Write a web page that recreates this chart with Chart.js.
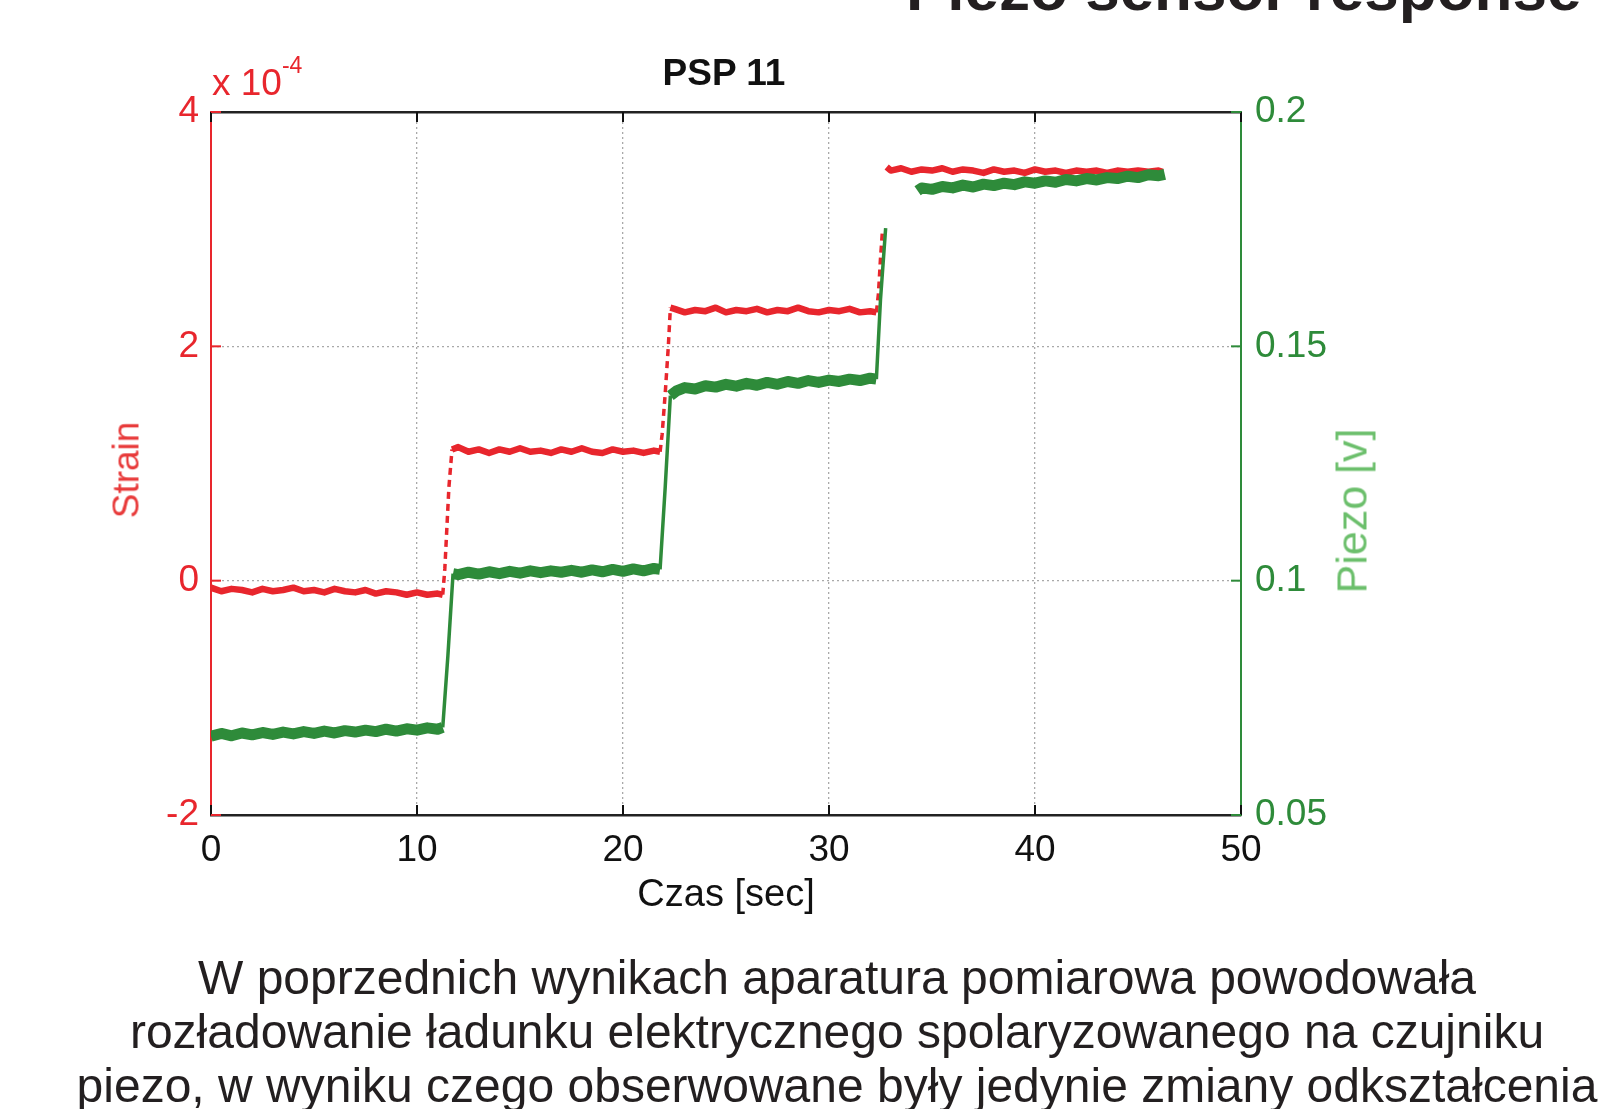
<!DOCTYPE html>
<html lang="pl">
<head>
<meta charset="utf-8">
<title>PSP 11</title>
<script src="https://cdn.jsdelivr.net/npm/chart.js@4.4.1/dist/chart.umd.min.js"></script>
<style>
  html, body { margin: 0; padding: 0; background: #fff; overflow: hidden; }
  body { width: 1622px; height: 1109px; position: relative; font-family: 'Liberation Sans', Arial, sans-serif; color: #231f20; }
  #wrap { position: absolute; left: 0; top: 0; width: 1622px; height: 1109px; }
  .txt { position: absolute; white-space: nowrap; line-height: 1; }
  #slideTitle { left: 906px; top: -42px; font-size: 62px; font-weight: bold; }
  #plotTitle { left: 724px; top: 54px; font-size: 37px; font-weight: bold; color: #111; transform: translateX(-50%); }
  #multiplier { left: 212px; top: 64px; font-size: 37px; color: #e8262d; }
  #multiplier sup { font-size: 23px; vertical-align: baseline; position: relative; top: -22px; }
  #strainTitle { left: 126px; top: 470px; font-size: 37px; color: #e83a3a; transform: translate(-50%, -50%) rotate(-90deg); }
  #piezoTitle { left: 1352px; top: 511px; font-size: 43px; color: #6cbf6c; transform: translate(-50%, -50%) rotate(-90deg); }
  #note { position: absolute; left: 0; width: 1674px; top: 951px; text-align: center; font-size: 48px; line-height: 54px; white-space: nowrap; }
</style>
</head>
<body>
<div id="slideTitle" class="txt">Piezo sensor response</div>
<div id="wrap"><canvas id="psp"></canvas></div>
<div id="plotTitle" class="txt">PSP 11</div>
<div id="multiplier" class="txt">x 10<sup>-4</sup></div>
<div id="strainTitle" class="txt">Strain</div>
<div id="piezoTitle" class="txt">Piezo [v]</div>
<div id="note">W poprzednich wynikach aparatura pomiarowa powodowała<br>rozładowanie ładunku elektrycznego spolaryzowanego na czujniku<br>piezo, w wyniku czego obserwowane były jedynie zmiany odkształcenia</div>

<script>
// Tick values
const xTicks = [0, 10, 20, 30, 40, 50];
const strainTicks = [-2, 0, 2, 4];
const piezoTicks = [0.05, 0.1, 0.15, 0.2];

// Strain (x 10^-4)
const strainTime = [
  0, 0.5, 1, 1.5, 2, 2.5, 3, 3.5, 4, 4.5, 5, 5.5, 6, 6.5, 7, 7.5, 8, 8.5, 9, 9.5, 10, 10.5, 11, 11.25,
  11.35, 11.45, 11.55, 11.7,
  12, 12.5, 13, 13.5, 14, 14.5, 15, 15.5, 16, 16.5, 17, 17.5, 18, 18.5, 19, 19.5, 20, 20.5, 21, 21.5, 21.8,
  21.9, 22.05, 22.2, 22.3,
  22.5, 23, 23.5, 24, 24.5, 25, 25.5, 26, 26.5, 27, 27.5, 28, 28.5, 29, 29.5, 30, 30.5, 31, 31.5, 32, 32.3,
  32.4, 32.5, 32.6, 32.7,
  32.8, 33, 33.5, 34, 34.5, 35, 35.5, 36, 36.5, 37, 37.5, 38, 38.5, 39, 39.5, 40, 40.5, 41, 41.5, 42, 42.5, 43, 43.5, 44, 44.5, 45, 45.5, 46, 46.2
];
const strainE4 = [
  -0.06, -0.09, -0.07, -0.08, -0.10, -0.07, -0.09, -0.08, -0.06, -0.09, -0.08, -0.10, -0.07, -0.09, -0.10, -0.08, -0.11, -0.09, -0.10, -0.12, -0.10, -0.12, -0.11, -0.12,
  0.10, 0.45, 0.80, 1.12,
  1.14, 1.10, 1.12, 1.09, 1.12, 1.10, 1.13, 1.10, 1.11, 1.09, 1.12, 1.10, 1.13, 1.10, 1.09, 1.12, 1.10, 1.11, 1.09, 1.11, 1.10,
  1.25, 1.60, 2.00, 2.33,
  2.32, 2.29, 2.31, 2.30, 2.33, 2.29, 2.31, 2.30, 2.32, 2.29, 2.31, 2.30, 2.33, 2.30, 2.29, 2.31, 2.30, 2.32, 2.29, 2.30, 2.29,
  2.45, 2.75, 3.00, null,
  3.53, 3.50, 3.52, 3.49, 3.51, 3.50, 3.52, 3.49, 3.51, 3.50, 3.48, 3.51, 3.49, 3.50, 3.48, 3.51, 3.49, 3.50, 3.48, 3.50, 3.49, 3.50, 3.48, 3.50, 3.49, 3.50, 3.49, 3.50, 3.49
];

// Piezo voltage [V]
const piezoTime = [
  0, 0.5, 1, 1.5, 2, 2.5, 3, 3.5, 4, 4.5, 5, 5.5, 6, 6.5, 7, 7.5, 8, 8.5, 9, 9.5, 10, 10.5, 11, 11.25,
  11.5, 11.75,
  12, 12.5, 13, 13.5, 14, 14.5, 15, 15.5, 16, 16.5, 17, 17.5, 18, 18.5, 19, 19.5, 20, 20.5, 21, 21.5, 21.8,
  22.05, 22.3,
  22.6, 23, 23.5, 24, 24.5, 25, 25.5, 26, 26.5, 27, 27.5, 28, 28.5, 29, 29.5, 30, 30.5, 31, 31.5, 32, 32.3,
  32.5, 32.75, 33.5,
  34.3, 34.5, 35, 35.5, 36, 36.5, 37, 37.5, 38, 38.5, 39, 39.5, 40, 40.5, 41, 41.5, 42, 42.5, 43, 43.5, 44, 44.5, 45, 45.5, 46, 46.3
];
const piezoV = [
  0.0668, 0.0674, 0.0669, 0.0675, 0.0671, 0.0676, 0.0672, 0.0677, 0.0673, 0.0678, 0.0674, 0.0679, 0.0675, 0.0680, 0.0677, 0.0681, 0.0678, 0.0683, 0.0679, 0.0684, 0.0681, 0.0686, 0.0683, 0.0687,
  0.0840, 0.1015,
  0.1013, 0.1018, 0.1014, 0.1019, 0.1015, 0.1020, 0.1016, 0.1021, 0.1017, 0.1021, 0.1018, 0.1022, 0.1018, 0.1023, 0.1019, 0.1024, 0.1020, 0.1025, 0.1021, 0.1026, 0.1024,
  0.1200, 0.1395,
  0.1405, 0.1412, 0.1409, 0.1416, 0.1413, 0.1419, 0.1415, 0.1421, 0.1417, 0.1423, 0.1419, 0.1425, 0.1421, 0.1427, 0.1423, 0.1428, 0.1425, 0.1430, 0.1427, 0.1432, 0.1430,
  0.1600, 0.1752, null,
  0.1832, 0.1838, 0.1835, 0.1841, 0.1838, 0.1844, 0.1840, 0.1846, 0.1843, 0.1848, 0.1845, 0.1851, 0.1848, 0.1853, 0.1850, 0.1856, 0.1853, 0.1858, 0.1855, 0.1860, 0.1858, 0.1863, 0.1860, 0.1866, 0.1864, 0.1867
];

const RED = '#e8262d';
const GREEN = '#2e8b3a';
const GRID = '#a9a9a9';

Chart.defaults.font.family = "'Liberation Sans', Arial, sans-serif";
Chart.defaults.color = '#111';

// steep parts of a trace (the jumps) are drawn thinner
function isSteep(ctx) {
  const dx = Math.abs(ctx.p1.x - ctx.p0.x);
  const dy = Math.abs(ctx.p1.y - ctx.p0.y);
  return dy > dx * 3;
}

function setTicks(values) {
  return scale => { scale.ticks = values.map(v => ({ value: v })); };
}

// small tick marks pointing into the plot, like the original figure
const innerTicks = {
  id: 'innerTicks',
  beforeDatasetsDraw(chart) {
    const { ctx, chartArea: a, scales } = chart;
    const len = 10;
    ctx.save();
    ctx.lineWidth = 2;
    ctx.strokeStyle = '#111';
    xTicks.forEach(v => {
      const px = scales.x.getPixelForValue(v);
      ctx.beginPath();
      ctx.moveTo(px, a.bottom); ctx.lineTo(px, a.bottom - len);
      ctx.moveTo(px, a.top); ctx.lineTo(px, a.top + len);
      ctx.stroke();
    });
    ctx.strokeStyle = RED;
    strainTicks.forEach(v => {
      const py = scales.y.getPixelForValue(v);
      ctx.beginPath(); ctx.moveTo(a.left, py); ctx.lineTo(a.left + len, py); ctx.stroke();
    });
    ctx.strokeStyle = GREEN;
    piezoTicks.forEach(v => {
      const py = scales.y1.getPixelForValue(v);
      ctx.beginPath(); ctx.moveTo(a.right, py); ctx.lineTo(a.right - len, py); ctx.stroke();
    });
    ctx.restore();
  }
};

document.addEventListener('DOMContentLoaded', function() {
  new Chart(document.getElementById('psp'), {
    type: 'line',
    data: {
      datasets: [
        {
          label: 'Piezo',
          yAxisID: 'y1',
          data: piezoTime.map((t, i) => ({ x: t, y: piezoV[i] })),
          borderColor: GREEN,
          borderWidth: 11,
          borderJoinStyle: 'round',
          segment: { borderWidth: ctx => isSteep(ctx) ? 3.5 : 11 }
        },
        {
          label: 'Strain',
          yAxisID: 'y',
          data: strainTime.map((t, i) => ({ x: t, y: strainE4[i] })),
          borderColor: RED,
          borderWidth: 6.5,
          borderJoinStyle: 'round',
          segment: {
            borderWidth: ctx => isSteep(ctx) ? 3.5 : 6.5,
            borderDash: ctx => isSteep(ctx) ? [7, 5] : undefined
          }
        }
      ]
    },
    options: {
      responsive: true,
      maintainAspectRatio: false,
      animation: false,
      spanGaps: false,
      elements: { point: { radius: 0 }, line: { tension: 0 } },
      layout: { padding: { top: 112, left: 0, right: 0, bottom: 0 } },
      plugins: { legend: { display: false }, tooltip: { enabled: false }, title: { display: false } },
      scales: {
        x: {
          type: 'linear',
          position: 'bottom',
          min: 0,
          max: 50,
          afterFit: s => { s.height = 294; },
          afterBuildTicks: setTicks(xTicks),
          ticks: { color: '#111', font: { size: 37 }, padding: 14, maxRotation: 0 },
          grid: {
            drawTicks: false,
            lineWidth: 1.3,
            color: ctx => (ctx.tick && ctx.tick.value > 0 && ctx.tick.value < 50) ? GRID : 'rgba(0,0,0,0)'
          },
          border: { color: '#222', width: 2.5, dash: [2, 3] },
          title: { display: true, text: 'Czas [sec]', color: '#111', font: { size: 38 }, padding: { top: 0, bottom: 191 } }
        },
        xTop: {
          type: 'linear',
          position: 'top',
          min: 0,
          max: 50,
          afterFit: s => { s.height = 0; },
          ticks: { display: false },
          grid: { display: false, drawTicks: false },
          border: { color: '#222', width: 2.5 }
        },
        y: {
          type: 'linear',
          position: 'left',
          min: -2,
          max: 4,
          afterFit: s => { s.width = 211; },
          afterBuildTicks: setTicks(strainTicks),
          ticks: { color: RED, font: { size: 37 }, padding: 12 },
          grid: {
            drawTicks: false,
            lineWidth: 1.3,
            color: ctx => (ctx.tick && (ctx.tick.value === 0 || ctx.tick.value === 2)) ? GRID : 'rgba(0,0,0,0)'
          },
          border: { color: RED, width: 2, dash: [2, 3] }
        },
        y1: {
          type: 'linear',
          position: 'right',
          min: 0.05,
          max: 0.2,
          afterFit: s => { s.width = 381; },
          afterBuildTicks: setTicks(piezoTicks),
          ticks: { color: GREEN, font: { size: 37 }, padding: 14, callback: v => String(v) },
          grid: { display: false, drawTicks: false },
          border: { color: GREEN, width: 2 }
        }
      }
    },
    plugins: [innerTicks]
  });
});
</script>
</body>
</html>
